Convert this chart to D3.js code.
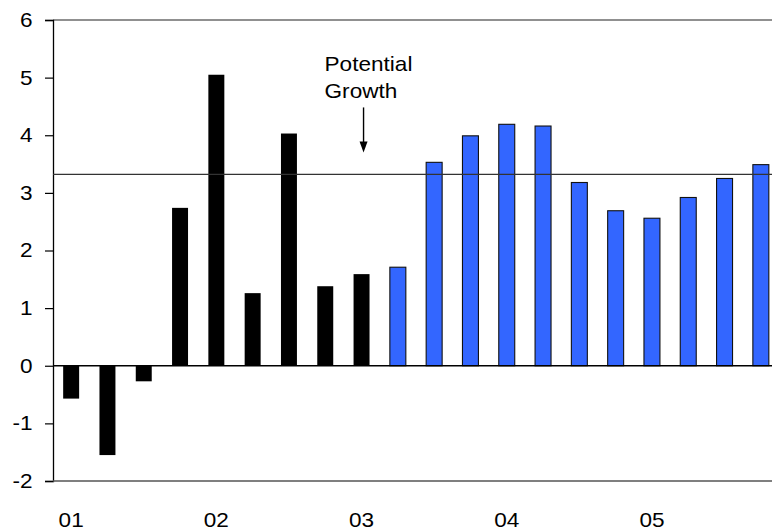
<!DOCTYPE html>
<html>
<head>
<meta charset="utf-8">
<script src="https://cdn.jsdelivr.net/npm/d3@7"></script>
<style>
  html, body { margin: 0; padding: 0; background: #fff; }
  svg { display: block; font-family: "Liberation Sans", Arial, sans-serif; }
</style>
</head>
<body>
<svg id="chart" width="772" height="531"></svg>
<script>
// Quarterly GDP growth, 2001Q1 - 2005Q4 (actual, then forecast)
const quarters = [
  "2001Q1","2001Q2","2001Q3","2001Q4",
  "2002Q1","2002Q2","2002Q3","2002Q4",
  "2003Q1","2003Q2","2003Q3","2003Q4",
  "2004Q1","2004Q2","2004Q3","2004Q4",
  "2005Q1","2005Q2","2005Q3","2005Q4"
];
const growth = [
  -0.57, -1.55, -0.27, 2.74,
   5.05,  1.26,  4.03, 1.38,
   1.59,  1.71,  3.53, 3.99,
   4.19,  4.16,  3.18, 2.69,
   2.56,  2.92,  3.25, 3.49
];
// first 9 quarters are outturns, the rest are projections
const isForecast = [
  false, false, false, false,
  false, false, false, false,
  false, true, true, true,
  true, true, true, true,
  true, true, true, true
];
const potentialGrowth = 3.32;
const yearLabels = ["01", "02", "03", "04", "05"];
const yearLabelQuarters = ["2001Q1", "2002Q1", "2003Q1", "2004Q1", "2005Q1"];
const yTicks = [-2, -1, 0, 1, 2, 3, 4, 5, 6];

const svg = d3.select("#chart");
const plotLeft = 53, plotRight = 779, plotTop = 20, plotBottom = 481;
const fontSize = 20;
const textWiden = 1.13;   // text is set slightly wide

const x = d3.scaleBand()
  .domain(quarters)
  .range([plotLeft, plotRight])
  .paddingInner(0.56)
  .paddingOuter(0.28);

const y = d3.scaleLinear().domain([-2, 6]).range([plotBottom, plotTop]);

// frame: top border
svg.append("line")
  .attr("x1", plotLeft).attr("x2", 772)
  .attr("y1", y(6)).attr("y2", y(6))
  .attr("stroke", "#222").attr("stroke-width", 1.2);

// y axis with outward ticks, plain hyphen for negatives
const yAxis = d3.axisLeft(y)
  .tickValues(yTicks)
  .tickSize(8)
  .tickPadding(10)
  .tickFormat((d) => (d < 0 ? "-" + Math.abs(d) : String(d)));
const gy = svg.append("g").attr("transform", `translate(${plotLeft},0)`).call(yAxis);
gy.select(".domain").attr("stroke", "#000").attr("stroke-width", 1.3);
gy.selectAll(".tick line").attr("stroke", "#000").attr("stroke-width", 1.2);
gy.selectAll(".tick text")
  .attr("font-size", fontSize)
  .attr("font-family", "'Liberation Sans', Arial, sans-serif")
  .attr("fill", "#000")
  .attr("transform", `scale(${textWiden},1)`);

// bars
svg.append("g").selectAll("rect")
  .data(quarters)
  .join("rect")
  .attr("x", (d) => x(d))
  .attr("width", x.bandwidth())
  .attr("y", (d, i) => y(Math.max(0, growth[i])))
  .attr("height", (d, i) => Math.abs(y(growth[i]) - y(0)))
  .attr("fill", (d, i) => isForecast[i] ? "#3366FF" : "#000")
  .attr("stroke", (d, i) => isForecast[i] ? "#111" : "none")
  .attr("stroke-width", 1.1);

// zero line
svg.append("line")
  .attr("x1", plotLeft).attr("x2", 772)
  .attr("y1", y(0)).attr("y2", y(0))
  .attr("stroke", "#000").attr("stroke-width", 1.3);

// bottom edge at -2
svg.append("line")
  .attr("x1", plotLeft).attr("x2", 772)
  .attr("y1", y(-2)).attr("y2", y(-2))
  .attr("stroke", "#555").attr("stroke-width", 1.6);

// potential growth reference line
svg.append("line")
  .attr("x1", plotLeft).attr("x2", 772)
  .attr("y1", y(potentialGrowth)).attr("y2", y(potentialGrowth))
  .attr("stroke", "#333").attr("stroke-width", 1.2);

// annotation with arrow
const ax = x("2003Q1") + x.bandwidth() / 2 + 2;
const tipY = y(potentialGrowth) - 22;
const tailY = tipY - 45;
svg.append("line")
  .attr("x1", ax).attr("x2", ax)
  .attr("y1", tailY).attr("y2", tipY - 8)
  .attr("stroke", "#000").attr("stroke-width", 1.4);
svg.append("path")
  .attr("d", `M${ax - 4},${tipY - 11} L${ax + 4},${tipY - 11} L${ax},${tipY} Z`)
  .attr("fill", "#000");
const ann = svg.append("text")
  .attr("transform", `translate(${ax - 39},0) scale(${textWiden},1)`)
  .attr("font-size", fontSize)
  .attr("fill", "#000");
ann.append("tspan").attr("x", 0).attr("y", 71).text("Potential");
ann.append("tspan").attr("x", 0).attr("y", 98).text("Growth");

// year labels under the first quarter of each year
svg.append("g").selectAll("text")
  .data(yearLabels)
  .join("text")
  .attr("transform", (d, i) =>
    `translate(${x(yearLabelQuarters[i]) + x.bandwidth() / 2},527) scale(${textWiden},1)`)
  .attr("text-anchor", "middle")
  .attr("font-size", fontSize)
  .attr("fill", "#000")
  .text((d) => d);
</script>
</body>
</html>
